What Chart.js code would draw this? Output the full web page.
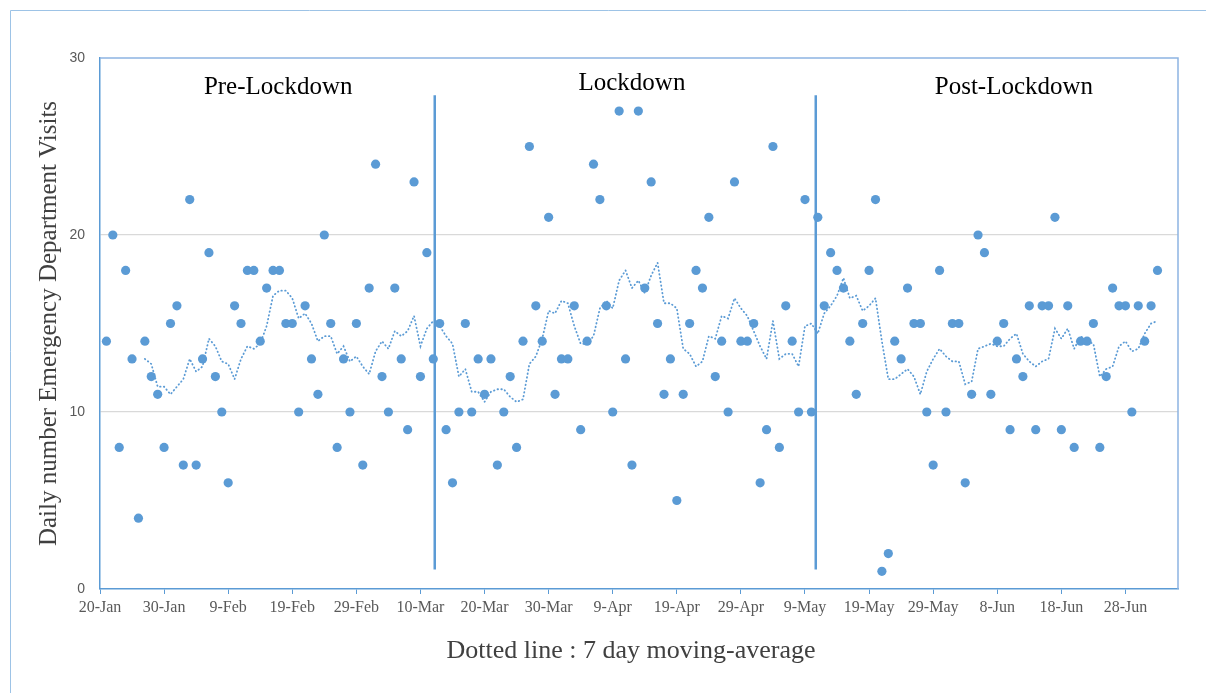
<!DOCTYPE html>
<html>
<head>
<meta charset="utf-8">
<script src="https://cdn.jsdelivr.net/npm/chart.js@4.4.1/dist/chart.umd.min.js"></script>
<style>
  html, body { margin: 0; padding: 0; background: #fff; }
  #wrap { width: 1206px; height: 693px; position: relative; }
</style>
</head>
<body>
<div id="wrap"><canvas id="edChart"></canvas></div>
<script>
// Daily ED visits, one value per day. Axis counts days from 20-Jan, first value sits on day 1.
const firstDay = 1;
const dailyVisits = [
    14, 20, 8, 18, 13, 4, 14, 12, 11, 8, 15, 16, 7, 22, 7, 13, 19, 12, 10, 6,
    16, 15, 18, 18, 14, 17, 18, 18, 15, 15, 10, 16, 13, 11, 20, 15, 8, 13, 10, 15,
    7, 17, 24, 12, 10, 17, 13, 9, 23, 12, 19, 13, 15, 9, 6, 10, 15, 10, 13, 11,
    13, 7, 10, 12, 8, 14, 25, 16, 14, 21, 11, 13, 13, 16, 9, 14, 24, 22, 16, 10,
    27, 13, 7, 27, 17, 23, 15, 11, 13, 5, 11, 15, 18, 17, 21, 12, 14, 10, 23, 14,
    14, 15, 6, 9, 25, 8, 16, 14, 10, 22, 10, 21, 16, 19, 18, 17, 14, 11, 15, 18,
    22, 1, 2, 14, 13, 17, 15, 15, 10, 7, 18, 10, 15, 15, 6, 11, 20, 19, 11, 14,
    15, 9, 13, 12, 16, 9, 16, 16, 21, 9, 16, 8, 14, 14, 15, 8, 12, 17, 16, 16,
    10, 16, 14, 16, 18
];
const tickLabels = ['20-Jan', '30-Jan', '9-Feb', '19-Feb', '29-Feb', '10-Mar', '20-Mar', '30-Mar',
    '9-Apr', '19-Apr', '29-Apr', '9-May', '19-May', '29-May', '8-Jun', '18-Jun', '28-Jun'];

// lockdown start / end markers (day on the axis) and their vertical extent
const lockdownDays = [52.23, 111.68];
const markerRange = [1.1, 27.9];

// period captions: centre day and baseline level
const periodNames = ['Pre-Lockdown', 'Lockdown', 'Post-Lockdown'];
const periodDays = [27.8, 83.0, 142.6];
const periodLevels = [27.98, 28.18, 27.98];

const yTitle = 'Daily number Emergency Department Visits';
const xTitle = 'Dotted line : 7 day moving-average';

const blue = '#5b9bd5';

// points of the scatter
const visitPoints = dailyVisits.map((v, i) => ({x: firstDay + i, y: v}));

// the dotted trendline: 7-period moving average of the same daily values
const movingAvg = [];
for (let i = 6; i < dailyVisits.length; i++) {
    let sum = 0;
    for (let j = i - 6; j <= i; j++) sum += dailyVisits[j];
    movingAvg.push({x: firstDay + i, y: sum / 7});
}

const markerSets = lockdownDays.map(d => ({
    type: 'line',
    data: [{x: d, y: markerRange[0]}, {x: d, y: markerRange[1]}],
    borderColor: blue,
    borderWidth: 2.5,
    pointRadius: 0,
    showLine: true,
    order: 3
}));

// frame, captions and axis titles
const decorations = {
    id: 'decorations',
    beforeDraw(chart) {
        const ctx = chart.ctx;
        ctx.save();
        ctx.fillStyle = '#fff';
        ctx.fillRect(0, 0, chart.width, chart.height);
        ctx.restore();
    },
    afterDraw(chart) {
        const ctx = chart.ctx;
        const a = chart.chartArea;
        const x = chart.scales.x, y = chart.scales.y;
        ctx.save();
        // outer figure border
        ctx.strokeStyle = '#9dc3e6';
        ctx.lineWidth = 1;
        ctx.beginPath();
        ctx.moveTo(10.5, chart.height);
        ctx.lineTo(10.5, 10.5);
        ctx.lineTo(chart.width, 10.5);
        ctx.stroke();
        // top and right sides of the plot frame
        ctx.strokeStyle = '#8db4e2';
        ctx.lineWidth = 1.5;
        ctx.beginPath();
        ctx.moveTo(a.left, a.top);
        ctx.lineTo(a.right, a.top);
        ctx.lineTo(a.right, a.bottom);
        ctx.stroke();

        ctx.textAlign = 'center';
        ctx.textBaseline = 'alphabetic';
        ctx.fillStyle = '#000';
        ctx.font = '25px "Liberation Serif"';
        periodNames.forEach((name, i) => {
            ctx.fillText(name, x.getPixelForValue(periodDays[i]), y.getPixelForValue(periodLevels[i]));
        });

        ctx.fillStyle = '#404040';
        ctx.textBaseline = 'middle';
        ctx.font = '26px "Liberation Serif"';
        ctx.fillText(xTitle, 631, 651);

        ctx.translate(49, (a.top + a.bottom) / 2);
        ctx.rotate(-Math.PI / 2);
        ctx.font = '25px "Liberation Serif"';
        ctx.fillText(yTitle, 0, 0);
        ctx.restore();
    }
};

const ctx = document.getElementById('edChart').getContext('2d');
const edChart = new Chart(ctx, {
    type: 'scatter',
    data: {
        datasets: [
            {
                label: 'Daily visits',
                data: visitPoints,
                backgroundColor: blue,
                borderWidth: 0,
                pointRadius: 4.6,
                order: 1
            },
            {
                type: 'line',
                label: '7 day moving-average',
                data: movingAvg,
                borderColor: blue,
                borderWidth: 1.8,
                borderDash: [0.5, 3.3],
                borderCapStyle: 'round',
                pointRadius: 0,
                tension: 0,
                showLine: true,
                order: 2
            },
            ...markerSets
        ]
    },
    options: {
        responsive: true,
        maintainAspectRatio: false,
        animation: false,
        events: [],
        layout: {
            padding: {left: 0, top: 58, right: 28, bottom: 0}
        },
        plugins: {
            legend: {display: false},
            tooltip: {enabled: false}
        },
        scales: {
            x: {
                type: 'linear',
                min: 0,
                max: 168.2,
                afterFit: (scale) => { scale.height = 104; },
                grid: {
                    drawOnChartArea: false,
                    color: blue,
                    tickColor: blue,
                    tickLength: 5
                },
                border: {color: blue, width: 1.5},
                ticks: {
                    stepSize: 10,
                    includeBounds: false,
                    maxRotation: 0,
                    autoSkip: false,
                    padding: 4,
                    color: '#595959',
                    font: {family: '"Liberation Serif"', size: 16},
                    callback: (v) => tickLabels[Math.round(v / 10)]
                }
            },
            y: {
                min: 0,
                max: 30,
                afterFit: (scale) => { scale.width = 100; },
                grid: {
                    color: (c) => (c.tick.value === 0 || c.tick.value === 30) ? 'rgba(0,0,0,0)' : '#d9d9d9',
                    lineWidth: 1.3,
                    drawTicks: false
                },
                border: {color: blue, width: 1.5},
                ticks: {
                    stepSize: 10,
                    padding: 15,
                    color: '#595959',
                    font: {family: '"Liberation Sans"', size: 14}
                }
            }
        }
    },
    plugins: [decorations]
});
</script>
</body>
</html>
